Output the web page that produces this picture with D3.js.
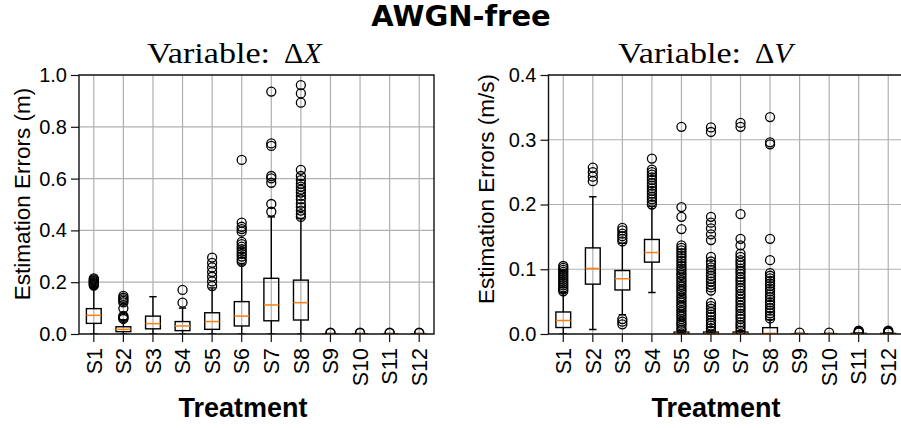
<!DOCTYPE html>
<html>
<head>
<meta charset="utf-8">
<script src="https://cdn.jsdelivr.net/npm/d3@7"></script>
<style>
    body { margin: 0; background: #fff; }
    svg { display: block; }
</style>
</head>
<body>
<svg id="chart" width="901" height="428"></svg>
<script>
// categories (treatments)
const categories = ['S1', 'S2', 'S3', 'S4', 'S5', 'S6', 'S7', 'S8', 'S9', 'S10', 'S11', 'S12'];

// Variable ΔX  (m)
const dxQ1  = [0.041, 0.009, 0.020, 0.013, 0.018, 0.031, 0.051, 0.054, 0, 0, 0, 0];
const dxMed = [0.072, 0.018, 0.040, 0.031, 0.048, 0.069, 0.112, 0.121, 0, 0, 0, 0];
const dxQ3  = [0.098, 0.028, 0.069, 0.048, 0.082, 0.125, 0.215, 0.208, 0.001, 0.001, 0.001, 0.001];
const dxLo  = [0, 0, 0, 0, 0, 0, 0, 0, 0, 0, 0, 0];
const dxHi  = [0.180, 0.055, 0.144, 0.100, 0.178, 0.270, 0.452, 0.445, 0.002, 0.002, 0.002, 0.002];
const dxOut = [
    [0.187, 0.19, 0.193, 0.197, 0.2, 0.204, 0.207, 0.211, 0.215],
    [0.058, 0.062, 0.066, 0.07, 0.099, 0.122, 0.128, 0.134, 0.14, 0.147],
    [],
    [0.121, 0.17],
    [0.185, 0.203, 0.221, 0.239, 0.257, 0.275, 0.295],
    [0.279, 0.289, 0.299, 0.309, 0.318, 0.328, 0.337, 0.347, 0.356, 0.395, 0.405, 0.414, 0.43, 0.672],
    [0.472, 0.502, 0.584, 0.601, 0.61, 0.726, 0.736, 0.936],
    [0.452, 0.463, 0.476, 0.49, 0.503, 0.52, 0.533, 0.546, 0.557, 0.569, 0.58, 0.594, 0.61, 0.634, 0.893, 0.929, 0.961],
    [0.003, 0.005],
    [0.003, 0.005],
    [0.003, 0.005],
    [0.003, 0.005]
];
const dxTicks = [0, 0.2, 0.4, 0.6, 0.8, 1.0];

// Variable ΔV  (m/s)
const dvQ1  = [0.010, 0.077, 0.068, 0.111, 0, 0, 0, 0, 0, 0, 0, 0];
const dvMed = [0.021, 0.101, 0.0855, 0.126, 0.0008, 0.0008, 0.0008, 0.001, 0, 0, 0, 0];
const dvQ3  = [0.034, 0.133, 0.098, 0.146, 0.003, 0.003, 0.003, 0.0098, 0.0005, 0.0005, 0.001, 0.001];
const dvLo  = [0, 0.007, 0.030, 0.064, 0, 0, 0, 0, 0, 0, 0, 0];
const dvHi  = [0.064, 0.212, 0.140, 0.197, 0.005, 0.005, 0.005, 0.022, 0.001, 0.001, 0.0015, 0.0015];
const dvOut = [
    [0.066, 0.069, 0.072, 0.075, 0.078, 0.081, 0.084, 0.087, 0.09, 0.093, 0.096, 0.099, 0.102, 0.105],
    [0.236, 0.243, 0.25, 0.257],
    [0.015, 0.019, 0.023, 0.143, 0.147, 0.151, 0.155, 0.16, 0.164],
    [0.2, 0.204, 0.208, 0.212, 0.217, 0.221, 0.225, 0.229, 0.233, 0.238, 0.242, 0.246, 0.25, 0.254, 0.271],
    [0.006, 0.009, 0.013, 0.016, 0.019, 0.023, 0.027, 0.03, 0.034, 0.037, 0.041, 0.044, 0.048, 0.051, 0.055, 0.058,
     0.062, 0.066, 0.069, 0.073, 0.076, 0.08, 0.083, 0.087, 0.091, 0.094, 0.098, 0.101, 0.105, 0.109, 0.113, 0.117,
     0.121, 0.125, 0.129, 0.133, 0.137, 0.162, 0.181, 0.196, 0.32],
    [0.005, 0.009, 0.013, 0.017, 0.021, 0.026, 0.03, 0.034, 0.039, 0.043, 0.048, 0.067, 0.072, 0.076, 0.081, 0.085,
     0.09, 0.094, 0.099, 0.103, 0.108, 0.112, 0.119, 0.145, 0.154, 0.163, 0.172, 0.181, 0.312, 0.319],
    [0.005, 0.01, 0.014, 0.018, 0.023, 0.027, 0.031, 0.036, 0.04, 0.044, 0.049, 0.053, 0.058, 0.062, 0.067, 0.071,
     0.075, 0.08, 0.084, 0.088, 0.093, 0.097, 0.101, 0.106, 0.11, 0.114, 0.119, 0.124, 0.137, 0.147, 0.185, 0.32, 0.326],
    [0.024, 0.028, 0.032, 0.036, 0.04, 0.045, 0.049, 0.053, 0.057, 0.061, 0.066, 0.07, 0.074, 0.078, 0.082, 0.086,
     0.09, 0.094, 0.114, 0.147, 0.293, 0.296, 0.335],
    [0.002],
    [0.002],
    [0.002, 0.003, 0.004, 0.005],
    [0.002, 0.003, 0.004, 0.005]
];
const dvTicks = [0, 0.1, 0.2, 0.3, 0.4];

const svg = d3.select('#chart');
const TOP = 75, BOTTOM = 334;
const SANS = 'Liberation Sans, Arial, sans-serif';
const SERIF = 'Liberation Serif, serif';

// suptitle
svg.append('text')
    .attr('x', 461).attr('y', 26)
    .attr('text-anchor', 'middle')
    .style('font-family', 'DejaVu Sans, sans-serif').style('font-size', '29px').style('font-weight', 'bold')
    .text('AWGN-free');

function drawPanel(cfg) {
    const g = svg.append('g');
    const x = d3.scaleBand().domain(categories).range([cfg.left, cfg.right]).padding(0);
    const y = d3.scaleLinear().domain([0, cfg.max]).range([BOTTOM, TOP]);
    const cx = c => x(c) + x.bandwidth() / 2;
    const boxW = x.bandwidth() * 0.5;
    const capW = boxW * 0.5;

    const clipId = 'clip-' + cfg.id;
    svg.append('clipPath').attr('id', clipId)
        .append('rect')
        .attr('x', cfg.left).attr('y', TOP)
        .attr('width', cfg.right - cfg.left).attr('height', BOTTOM - TOP);

    // grid
    const grid = g.append('g').attr('stroke', '#b0b0b0').attr('stroke-width', 1.2);
    grid.selectAll('.hg').data(cfg.ticks).enter().append('line')
        .attr('x1', cfg.left).attr('x2', cfg.right)
        .attr('y1', d => y(d)).attr('y2', d => y(d));
    grid.selectAll('.vg').data(categories).enter().append('line')
        .attr('x1', d => cx(d)).attr('x2', d => cx(d))
        .attr('y1', TOP).attr('y2', BOTTOM);

    // boxes
    const plot = g.append('g').attr('clip-path', `url(#${clipId})`);
    categories.forEach((c, i) => {
        const bx = cx(c);
        const b = plot.append('g').attr('fill', 'none').attr('stroke', '#000').attr('stroke-width', 1.4);
        b.append('line').attr('x1', bx).attr('x2', bx).attr('y1', y(cfg.q1[i])).attr('y2', y(cfg.lo[i]));
        b.append('line').attr('x1', bx).attr('x2', bx).attr('y1', y(cfg.q3[i])).attr('y2', y(cfg.hi[i]));
        b.append('line').attr('x1', bx - capW / 2).attr('x2', bx + capW / 2).attr('y1', y(cfg.lo[i])).attr('y2', y(cfg.lo[i]));
        b.append('line').attr('x1', bx - capW / 2).attr('x2', bx + capW / 2).attr('y1', y(cfg.hi[i])).attr('y2', y(cfg.hi[i]));
        b.append('rect')
            .attr('x', bx - boxW / 2).attr('width', boxW)
            .attr('y', y(cfg.q3[i])).attr('height', Math.max(0, y(cfg.q1[i]) - y(cfg.q3[i])));
        b.append('line')
            .attr('x1', bx - boxW / 2).attr('x2', bx + boxW / 2)
            .attr('y1', y(cfg.med[i])).attr('y2', y(cfg.med[i]))
            .attr('stroke', '#ff7f0e').attr('stroke-width', 1.5);
        b.selectAll('circle').data(cfg.out[i]).enter().append('circle')
            .attr('cx', bx).attr('cy', d => y(d)).attr('r', 4.5)
            .attr('stroke-width', 1.3);
    });

    // spines
    g.append('rect')
        .attr('x', cfg.left).attr('y', TOP)
        .attr('width', cfg.right - cfg.left).attr('height', BOTTOM - TOP)
        .attr('fill', 'none').attr('stroke', '#111').attr('stroke-width', 1.4);

    // y axis
    const ya = g.append('g').attr('transform', `translate(${cfg.left},0)`)
        .call(d3.axisLeft(y).tickValues(cfg.ticks).tickSize(8).tickPadding(4).tickFormat(d3.format('.1f')));
    ya.select('.domain').remove();
    ya.selectAll('line').attr('stroke', '#111').attr('stroke-width', 1.2);
    ya.selectAll('text').style('font-family', SANS).style('font-size', '20px').attr('fill', '#000');

    // x axis
    const xa = g.append('g').attr('transform', `translate(0,${BOTTOM})`)
        .call(d3.axisBottom(x).tickSize(8));
    xa.select('.domain').remove();
    xa.selectAll('line').attr('stroke', '#111').attr('stroke-width', 1.2);
    xa.selectAll('text')
        .attr('transform', 'rotate(-90)')
        .attr('x', -14).attr('y', 0).attr('dy', '0.36em')
        .style('text-anchor', 'end')
        .style('font-family', SANS).style('font-size', '21.5px').attr('fill', '#000');

    // axis titles
    g.append('text')
        .attr('transform', `translate(${cfg.ylabX},${cfg.ylabY}) rotate(-90)`)
        .attr('text-anchor', 'middle')
        .style('font-family', SANS).style('font-size', '22.5px')
        .text(cfg.ylabel);
    g.append('text')
        .attr('x', cfg.xlabX).attr('y', 417)
        .attr('text-anchor', 'middle')
        .style('font-family', SANS).style('font-size', '27px').style('font-weight', 'bold')
        .text('Treatment');

    // subplot title  "Variable: Δ?"
    g.append('text')
        .attr('x', cfg.titleX).attr('y', 63)
        .attr('textLength', 123).attr('lengthAdjust', 'spacingAndGlyphs')
        .style('font-family', SERIF).style('font-size', '30px')
        .text('Variable:');
    const mt = g.append('text')
        .attr('x', cfg.titleX + 137).attr('y', 63)
        .style('font-family', SERIF).style('font-size', '30px');
    mt.append('tspan').text('Δ');
    mt.append('tspan').style('font-style', 'italic').text(cfg.sym);
}

drawPanel({
    id: 'dx', left: 79, right: 434, max: 1.0, ticks: dxTicks,
    q1: dxQ1, med: dxMed, q3: dxQ3, lo: dxLo, hi: dxHi, out: dxOut,
    ylabel: 'Estimation Errors (m)', ylabX: 30, ylabY: 194, xlabX: 243,
    titleX: 147, sym: 'X'
});
drawPanel({
    id: 'dv', left: 548.5, right: 903, max: 0.4, ticks: dvTicks,
    q1: dvQ1, med: dvMed, q3: dvQ3, lo: dvLo, hi: dvHi, out: dvOut,
    ylabel: 'Estimation Errors (m/s)', ylabX: 494, ylabY: 189, xlabX: 716,
    titleX: 618, sym: 'V'
});
</script>
</body>
</html>
